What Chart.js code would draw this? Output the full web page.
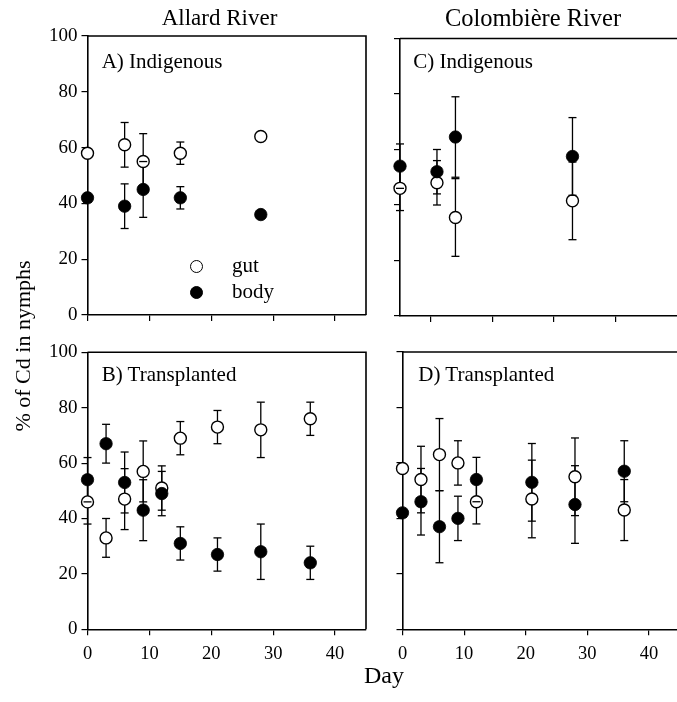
<!DOCTYPE html>
<html><head><meta charset="utf-8">
<script src="https://cdn.jsdelivr.net/npm/chart.js@4.4.1/dist/chart.umd.min.js"></script>
<style>
html,body{margin:0;padding:0;background:#fff;overflow:hidden;width:677px;height:702px;position:relative;}
canvas{position:absolute;left:0;top:0;}
.t{position:absolute;font-family:"Liberation Serif","Times New Roman",serif;color:#000;white-space:nowrap;line-height:1;}
.c{transform:translateX(-50%);}
.dot{position:absolute;width:13.4px;height:13.4px;box-sizing:border-box;border-radius:50%;border:1.4px solid #000;}
</style></head><body>
<canvas id="cA" width="700" height="702"></canvas>
<canvas id="cB" width="700" height="702"></canvas>
<canvas id="cC" width="700" height="702"></canvas>
<canvas id="cD" width="700" height="702"></canvas>

<div class="t c" style="left:219.5px;top:6.4px;font-size:23px;">Allard River</div>
<div class="t c" style="left:533px;top:5.5px;font-size:24.5px;">Colombière River</div>
<div class="t" style="left:101.7px;top:50.7px;font-size:21px;">A) Indigenous</div>
<div class="t" style="left:413.3px;top:51.4px;font-size:21px;">C) Indigenous</div>
<div class="t" style="left:101.7px;top:364.1px;font-size:21px;">B) Transplanted</div>
<div class="t" style="left:418.3px;top:364.1px;font-size:21px;">D) Transplanted</div>
<div class="dot" style="left:189.6px;top:260px;background:#fff;"></div>
<div class="dot" style="left:190px;top:285.6px;background:#000;"></div>
<div class="t" style="left:232px;top:255.1px;font-size:21px;">gut</div>
<div class="t" style="left:232px;top:280.7px;font-size:21px;">body</div>
<div class="t c" style="left:384px;top:663.2px;font-size:24px;">Day</div>
<div class="t" style="left:-87.4px;top:334.5px;width:220px;text-align:center;font-size:22px;transform:rotate(-90deg);">% of Cd in nymphs</div>

<script>
// ---- tick values ----
const xTickVals = [0, 10, 20, 30, 40];
const xTickValsC = [5, 15, 25, 35];
const yTickVals = [0, 20, 40, 60, 80, 100];

// ---- A) Allard River, Indigenous ----
const daysA = [0, 6, 9, 15, 28];
const gutA = [58, 61, 55, 58, 64];
const gutErrA = [0, 8, 10, 4, 0];
const bodyA = [42, 39, 45, 42, 36];
const bodyErrA = [0, 8, 10, 4, 0];

// ---- B) Allard River, Transplanted ----
const daysB = [0, 3, 6, 9, 12, 15, 21, 28, 36];
const gutB = [46, 33, 47, 57, 51, 69, 73, 72, 76];
const gutErrB = [8, 7, 11, 11, 8, 6, 6, 10, 6];
const bodyB = [54, 67, 53, 43, 49, 31, 27, 28, 24];
const bodyErrB = [8, 7, 11, 11, 8, 6, 6, 10, 6];

// ---- C) Colombière River, Indigenous ----
const daysC = [0, 6, 9, 28];
const gutC = [46, 48, 35.5, 41.5];
const gutErrC = [8, 8, 14, 14];
const bodyC = [54, 52, 64.5, 57.5];
const bodyErrC = [8, 8, 14.5, 14];

// ---- D) Colombière River, Transplanted ----
const daysD = [0, 3, 6, 9, 12, 21, 28, 36];
const gutD = [58, 54, 63, 60, 46, 47, 55, 43];
const gutErrD = [0, 12, 13, 8, 8, 14, 14, 11];
const bodyD = [42, 46, 37, 40, 54, 53, 45, 57];
const bodyErrD = [0, 12, 13, 8, 8, 14, 14, 11];

const FONT = "'Liberation Serif', 'Times New Roman', serif";

const errPlugin = {
  id: 'errbars',
  beforeDatasetsDraw(chart) {
    const {ctx, scales: {x, y}} = chart;
    ctx.save();
    ctx.strokeStyle = '#000';
    ctx.lineWidth = 1.3;
    chart.data.datasets.forEach(ds => {
      ds.data.forEach((p, i) => {
        const e = ds.errors[i];
        if (!e) return;
        const px = x.getPixelForValue(p.x);
        ctx.beginPath();
        ctx.moveTo(px, y.getPixelForValue(p.y - e));
        ctx.lineTo(px, y.getPixelForValue(p.y + e));
        ctx.stroke();
      });
    });
    ctx.restore();
  },
  afterDatasetDraw(chart, args) {
    if (chart.data.datasets[args.index].label !== 'gut') return;
    const {ctx, scales: {x, y}} = chart;
    ctx.save();
    ctx.strokeStyle = '#000';
    ctx.lineWidth = 1.3;
    chart.data.datasets.forEach(ds => {
      ds.data.forEach((p, i) => {
        const e = ds.errors[i];
        if (!e) return;
        const px = x.getPixelForValue(p.x);
        [p.y - e, p.y + e].forEach(v => {
          const py = y.getPixelForValue(v);
          ctx.beginPath();
          ctx.moveTo(px - 4, py);
          ctx.lineTo(px + 4, py);
          ctx.stroke();
        });
      });
    });
    ctx.restore();
  }
};

const framePlugin = {
  id: 'frame',
  afterDraw(chart, args, opts) {
    const {ctx, chartArea: {left, top, right, bottom}} = chart;
    ctx.save();
    ctx.strokeStyle = '#000';
    ctx.lineWidth = 1.6;
    ctx.beginPath();
    ctx.moveTo(left, top);
    ctx.lineTo(right, top);
    if (opts.box) ctx.lineTo(right, bottom);
    ctx.stroke();
    ctx.restore();
  }
};

function makePanel(id, area, days, gut, gutErr, body, bodyErr, xt, showX, showY, box) {
  const W = 700, H = 702, YW = 40, XH = 40;
  new Chart(document.getElementById(id), {
    type: 'scatter',
    data: {
      datasets: [
        {label: 'gut', data: days.map((d, i) => ({x: d, y: gut[i]})), errors: gutErr,
         pointRadius: 6, pointBorderWidth: 1.4, pointBackgroundColor: '#fff', pointBorderColor: '#000',
         clip: false, order: 1},
        {label: 'body', data: days.map((d, i) => ({x: d, y: body[i]})), errors: bodyErr,
         pointRadius: 6.2, pointBorderWidth: 0.8, pointBackgroundColor: '#000', pointBorderColor: '#000',
         clip: false, order: 0}
      ]
    },
    options: {
      responsive: false, animation: false, devicePixelRatio: 1, events: [],
      layout: {padding: {left: area.l - YW, top: area.t, right: W - area.r, bottom: H - area.b - XH}},
      plugins: {legend: {display: false}, tooltip: {enabled: false}, frame: {box: box}},
      scales: {
        x: {
          type: 'linear', min: 0, max: 45, offset: false,
          afterBuildTicks: s => { s.ticks = xt.map(v => ({value: v})); },
          afterFit: s => { s.height = XH; },
          ticks: {display: showX, color: '#000', padding: 8, font: {family: FONT, size: 18.5}, maxRotation: 0},
          grid: {drawOnChartArea: false, drawTicks: true, tickLength: 6, color: '#000', lineWidth: 1.2},
          border: {display: true, color: '#000', width: 1.6}
        },
        y: {
          type: 'linear', min: 0, max: 100,
          afterBuildTicks: s => { s.ticks = yTickVals.map(v => ({value: v})); },
          afterFit: s => { s.width = YW; },
          ticks: {display: showY, color: '#000', padding: 4, font: {family: FONT, size: 19}},
          grid: {drawOnChartArea: false, drawTicks: true, tickLength: 6, color: '#000', lineWidth: 1.2},
          border: {display: true, color: '#000', width: 1.6}
        }
      }
    },
    plugins: [errPlugin, framePlugin]
  });
}

makePanel('cA', {l: 87.5, t: 36, r: 366, b: 315}, daysA, gutA, gutErrA, bodyA, bodyErrA, xTickVals, false, true, true);
makePanel('cB', {l: 87.5, t: 352.3, r: 366, b: 629.3}, daysB, gutB, gutErrB, bodyB, bodyErrB, xTickVals, true, true, true);
makePanel('cC', {l: 400, t: 38.5, r: 677.2, b: 316}, daysC, gutC, gutErrC, bodyC, bodyErrC, xTickValsC, false, false, false);
makePanel('cD', {l: 402.5, t: 352, r: 679.7, b: 629.3}, daysD, gutD, gutErrD, bodyD, bodyErrD, xTickVals, true, false, false);
</script>
</body></html>
